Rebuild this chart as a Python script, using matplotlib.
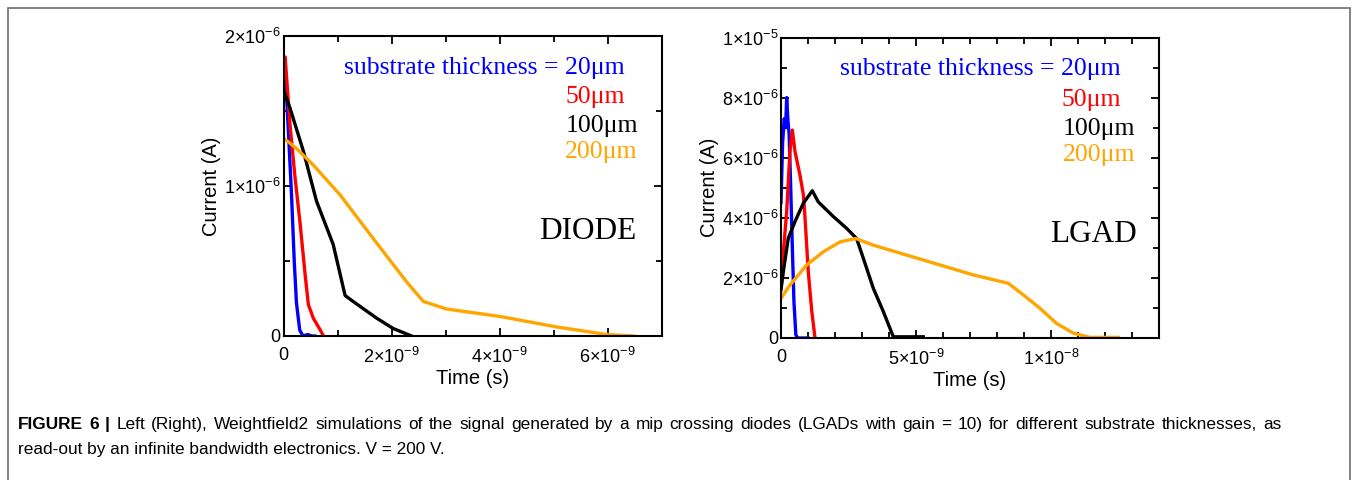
import numpy as np
import matplotlib
matplotlib.use("Agg")
import matplotlib.pyplot as plt
from matplotlib.ticker import MultipleLocator, FuncFormatter
from matplotlib.patches import Rectangle

plt.rcParams['font.family'] = ['Liberation Sans', 'DejaVu Sans']
plt.rcParams['mathtext.default'] = 'regular'
plt.rcParams['axes.unicode_minus'] = False

# ---------------- data (time in ns, current in uA) ----------------
thickness_labels = ["substrate thickness = 20\u03bcm", "50\u03bcm", "100\u03bcm", "200\u03bcm"]
colors = ["#0000ff", "#ff0000", "#000000", "#ffa500"]

# DIODE
diode_t20 = [0, 0.04, 0.09, 0.15, 0.20, 0.24, 0.30, 0.36, 0.45, 0.52, 0.58]
diode_i20 = [1.75, 1.71, 1.37, 0.93, 0.49, 0.22, 0.04, 0.0, 0.01, 0.0, 0.0]
diode_t50 = [0, 0.03, 0.12, 0.21, 0.31, 0.40, 0.46, 0.55, 0.68, 0.74]
diode_i50 = [1.80, 1.86, 1.41, 1.07, 0.74, 0.41, 0.21, 0.12, 0.04, 0.0]
diode_t100 = [0, 0.12, 0.37, 0.61, 0.92, 1.14, 1.29, 1.72, 2.03, 2.37]
diode_i100 = [1.64, 1.52, 1.23, 0.90, 0.61, 0.27, 0.23, 0.12, 0.05, 0.0]
diode_t200 = [0, 0.24, 0.55, 1.05, 1.66, 2.28, 2.59, 3.02, 4.01, 5.06, 5.98, 6.48]
diode_i200 = [1.32, 1.25, 1.14, 0.94, 0.65, 0.36, 0.23, 0.18, 0.13, 0.06, 0.01, 0.0]

# LGAD
lgad_t20 = [0, 0.06, 0.12, 0.17, 0.21, 0.26, 0.30, 0.36, 0.42, 0.48, 0.55, 0.62, 1.0]
lgad_i20 = [4.5, 6.5, 7.3, 7.0, 8.0, 7.2, 6.8, 5.0, 3.0, 1.2, 0.1, 0.0, 0.0]
lgad_t50 = [0, 0.10, 0.21, 0.33, 0.42, 0.52, 0.70, 0.83, 0.89, 1.01, 1.14, 1.26]
lgad_i50 = [2.0, 3.0, 4.2, 6.2, 6.92, 6.2, 5.43, 4.76, 3.99, 2.21, 0.89, 0.0]
lgad_t100 = [0, 0.10, 0.27, 0.52, 0.83, 1.16, 1.38, 1.94, 2.43, 2.80, 3.05, 3.42, 3.79, 4.16, 5.27]
lgad_i100 = [1.6, 2.3, 3.32, 3.88, 4.49, 4.9, 4.53, 4.04, 3.65, 3.31, 2.65, 1.65, 0.88, 0.04, 0.04]
lgad_t200 = [0, 0.33, 0.95, 1.57, 2.19, 2.77, 3.42, 4.65, 5.89, 7.12, 8.42, 8.98, 9.59, 10.2, 10.83, 11.44, 12.49]
lgad_i200 = [1.32, 1.76, 2.43, 2.87, 3.2, 3.31, 3.09, 2.76, 2.43, 2.1, 1.82, 1.43, 0.99, 0.49, 0.16, 0.02, 0.02]

caption_bold = "FIGURE 6 |"
caption_rest1 = ("Left (Right), Weightfield2 simulations of the signal generated by a mip crossing diodes "
                 "(LGADs with gain = 10) for different substrate thicknesses, as")
caption_line2 = "read-out by an infinite bandwidth electronics. V = 200 V."

NS = 1e-9
UA = 1e-6


def sci_fmt(v, pos):
    if abs(v) < 1e-30:
        return "0"
    e = int(np.floor(np.log10(abs(v)) + 1e-9))
    m = int(round(v / 10 ** e))
    return r"$\mathregular{%d{\times}10^{%d}}$" % (m, e)


fig = plt.figure(figsize=(13.54, 4.8), dpi=100)
W, H = 1354, 480

ax1 = fig.add_axes([283.5 / W, 1 - 336 / H, (661.7 - 283.5) / W, 300 / H])
ax2 = fig.add_axes([781 / W, 1 - 338 / H, (1159 - 781) / W, 300.5 / H])

lw = 2.4
for t, i, c in zip([diode_t20, diode_t50, diode_t100, diode_t200],
                   [diode_i20, diode_i50, diode_i100, diode_i200], colors):
    ax1.plot(np.array(t) * NS, np.array(i) * UA, color=c, lw=lw, solid_joinstyle='round')
for t, i, c in zip([lgad_t20, lgad_t50, lgad_t100, lgad_t200],
                   [lgad_i20, lgad_i50, lgad_i100, lgad_i200], colors):
    ax2.plot(np.array(t) * NS, np.array(i) * UA, color=c, lw=lw, solid_joinstyle='round')

ax1.set_xlim(0, 7e-9)
ax1.set_ylim(0, 2e-6)
ax1.xaxis.set_major_locator(MultipleLocator(2e-9))
ax1.xaxis.set_minor_locator(MultipleLocator(1e-9))
ax1.yaxis.set_major_locator(MultipleLocator(1e-6))
ax1.yaxis.set_minor_locator(MultipleLocator(0.5e-6))

ax2.set_xlim(0, 1.4e-8)
ax2.set_ylim(0, 1e-5)
ax2.xaxis.set_major_locator(MultipleLocator(5e-9))
ax2.xaxis.set_minor_locator(MultipleLocator(1e-9))
ax2.yaxis.set_major_locator(MultipleLocator(2e-6))
ax2.yaxis.set_minor_locator(MultipleLocator(1e-6))

for ax in (ax1, ax2):
    ax.xaxis.set_major_formatter(FuncFormatter(sci_fmt))
    ax.yaxis.set_major_formatter(FuncFormatter(sci_fmt))
    ax.tick_params(which='both', direction='in', top=True, right=True, width=1.3,
                   labelsize=13)
    ax.tick_params(axis='x', which='major', pad=8)
    ax.tick_params(axis='y', which='major', pad=2)
    ax.tick_params(which='major', length=6)
    ax.tick_params(which='minor', length=4)
    for s in ax.spines.values():
        s.set_linewidth(1.5)
    ax.set_xlabel("Time (s)", fontsize=14.5, labelpad=1)
    ax.set_ylabel("Current (A)", fontsize=14.5, labelpad=2)

serif = ['Liberation Serif', 'DejaVu Serif']
left_pos = [(0.903, 0.894), (0.903, 0.798), (0.937, 0.70), (0.937, 0.614)]
right_pos = [(0.899, 0.895), (0.899, 0.792), (0.937, 0.695), (0.937, 0.609)]
for lab, c, p in zip(thickness_labels, colors, left_pos):
    ax1.text(p[0], p[1], lab, color=c, transform=ax1.transAxes, ha='right', va='center',
             fontsize=18.5, family=serif)
for lab, c, p in zip(thickness_labels, colors, right_pos):
    ax2.text(p[0], p[1], lab, color=c, transform=ax2.transAxes, ha='right', va='center',
             fontsize=18.5, family=serif)
ax1.text(0.934, 0.348, "DIODE", transform=ax1.transAxes, ha='right', va='center',
         fontsize=22.5, family=serif)
ax2.text(0.942, 0.343, "LGAD", transform=ax2.transAxes, ha='right', va='center',
         fontsize=22.5, family=serif)

# outer border
fig.add_artist(Rectangle((8 / W, -0.05), (1350 - 8) / W, 1 - 8 / H + 0.05,
                         transform=fig.transFigure, fill=False, edgecolor='#6e6e6e', lw=1.2))

# caption: first line justified between x_left and x_right
cap_size = 12.4
x_left, x_right = 18, 1281
base1, base2 = 429, 454
words = [(w, 'bold') for w in caption_bold.split()] + [(w, 'normal') for w in caption_rest1.split()]
texts = [fig.text(0, 1 - base1 / H, w, fontsize=cap_size, fontweight=fw, ha='left', va='baseline')
         for w, fw in words]
fig.canvas.draw()
r = fig.canvas.get_renderer()
widths = [t.get_window_extent(renderer=r).width for t in texts]
gap = (x_right - x_left - sum(widths)) / (len(texts) - 1)
x = x_left
for t, wd in zip(texts, widths):
    t.set_x(x / W)
    x += wd + gap
fig.text(x_left / W, 1 - base2 / H, caption_line2, fontsize=cap_size, ha='left', va='baseline')

fig.savefig("out.png", dpi=100)
